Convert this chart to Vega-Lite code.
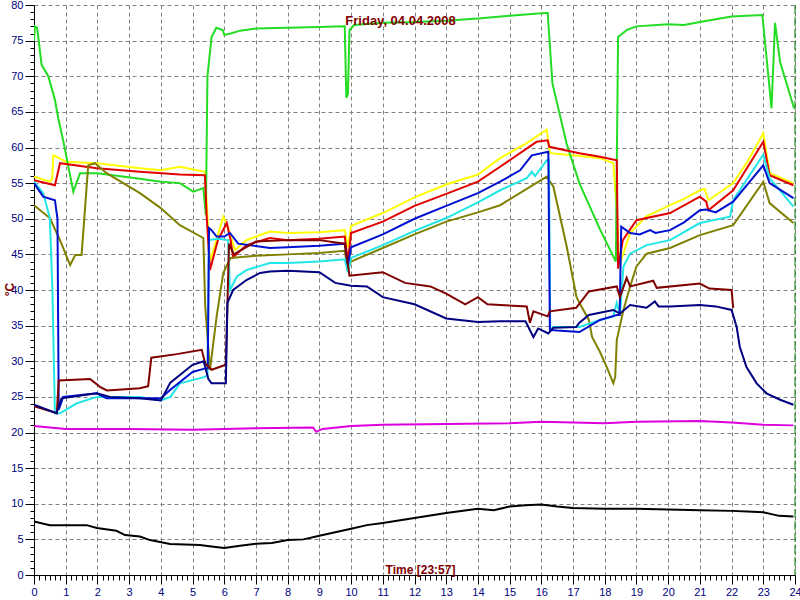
{
"$schema": "https://vega.github.io/schema/vega-lite/v6.json",
"width": 761, "height": 570,
"autosize": {"type": "none"},
"padding": {"left": 34, "top": 5, "right": 5, "bottom": 25},
"background": "white",
"title": {"text": "Friday, 04.04.2008", "color": "#800000", "font": "Liberation Sans", "fontSize": 13, "fontWeight": "bold", "anchor": "middle", "frame": "group", "baseline": "alphabetic", "offset": -20, "dy": 19, "dx": -14},
"config": {"view": {"stroke": null}, "axis": {"labelOverlap": false}},
"layer": [
{
"data": {"values": [
{"s":"y","t":0,"v":55.9},{"s":"y","t":0.5,"v":55.2},{"s":"y","t":0.57,"v":55.5},{"s":"y","t":0.61,"v":58.9},{"s":"y","t":0.75,"v":58.6},{"s":"y","t":1,"v":58},{"s":"y","t":2,"v":57.8},{"s":"y","t":3.34,"v":57.1},{"s":"y","t":4,"v":56.8},{"s":"y","t":4.6,"v":57.3},{"s":"y","t":5.39,"v":56.6},{"s":"y","t":5.45,"v":52},{"s":"y","t":5.55,"v":44},{"s":"y","t":5.75,"v":47},{"s":"y","t":5.97,"v":50.3},{"s":"y","t":6.1,"v":49},{"s":"y","t":6.34,"v":45.6},{"s":"y","t":6.7,"v":47},{"s":"y","t":7.44,"v":48.2},{"s":"y","t":8,"v":48},{"s":"y","t":9,"v":48.1},{"s":"y","t":9.8,"v":48.4},{"s":"y","t":9.9,"v":46},{"s":"y","t":10,"v":49},{"s":"y","t":11,"v":50.8},{"s":"y","t":12,"v":53},{"s":"y","t":13,"v":54.8},{"s":"y","t":14,"v":56.2},{"s":"y","t":14.7,"v":58.5},{"s":"y","t":15.5,"v":60.5},{"s":"y","t":16.17,"v":62.5},{"s":"y","t":16.27,"v":59.2},{"s":"y","t":17,"v":58.9},{"s":"y","t":17.85,"v":58.5},{"s":"y","t":18.27,"v":57.8},{"s":"y","t":18.4,"v":50},{"s":"y","t":18.45,"v":43.3},{"s":"y","t":18.8,"v":48},{"s":"y","t":19.3,"v":50.3},{"s":"y","t":20.06,"v":51.9},{"s":"y","t":20.5,"v":52.8},{"s":"y","t":21,"v":54},{"s":"y","t":21.15,"v":54.2},{"s":"y","t":21.27,"v":52.6},{"s":"y","t":22.05,"v":55},{"s":"y","t":22.5,"v":58},{"s":"y","t":23,"v":62},{"s":"y","t":23.2,"v":56.4},{"s":"y","t":23.95,"v":55},
{"s":"g","t":0,"v":75},{"s":"g","t":0.03,"v":77},{"s":"g","t":0.1,"v":76.8},{"s":"g","t":0.24,"v":71.6},{"s":"g","t":0.45,"v":70},{"s":"g","t":0.66,"v":66.7},{"s":"g","t":0.77,"v":64},{"s":"g","t":0.92,"v":61},{"s":"g","t":1.24,"v":53.8},{"s":"g","t":1.45,"v":56.4},{"s":"g","t":2,"v":56.4},{"s":"g","t":3.34,"v":55.6},{"s":"g","t":4,"v":55.2},{"s":"g","t":4.6,"v":55},{"s":"g","t":5.02,"v":53.8},{"s":"g","t":5.34,"v":54.3},{"s":"g","t":5.42,"v":50.5},{"s":"g","t":5.47,"v":70},{"s":"g","t":5.6,"v":75.5},{"s":"g","t":5.75,"v":76.8},{"s":"g","t":5.95,"v":76.5},{"s":"g","t":6.0,"v":75.8},{"s":"g","t":6.2,"v":76},{"s":"g","t":6.5,"v":76.4},{"s":"g","t":7,"v":76.7},{"s":"g","t":8,"v":76.8},{"s":"g","t":9,"v":76.9},{"s":"g","t":9.8,"v":77},{"s":"g","t":9.85,"v":67},{"s":"g","t":9.9,"v":67.5},{"s":"g","t":9.95,"v":76.5},{"s":"g","t":10.1,"v":77.2},{"s":"g","t":11,"v":77.5},{"s":"g","t":12,"v":77.6},{"s":"g","t":13,"v":77.8},{"s":"g","t":14,"v":78.1},{"s":"g","t":15,"v":78.5},{"s":"g","t":16.2,"v":78.9},{"s":"g","t":16.35,"v":69},{"s":"g","t":16.8,"v":60.5},{"s":"g","t":17.2,"v":55},{"s":"g","t":17.85,"v":48.5},{"s":"g","t":18.35,"v":44},{"s":"g","t":18.42,"v":75.5},{"s":"g","t":18.7,"v":76.5},{"s":"g","t":19,"v":77},{"s":"g","t":20,"v":77.3},{"s":"g","t":20.5,"v":77.2},{"s":"g","t":21,"v":77.6},{"s":"g","t":22,"v":78.4},{"s":"g","t":22.97,"v":78.6},{"s":"g","t":23.26,"v":65.5},{"s":"g","t":23.37,"v":77.5},{"s":"g","t":23.53,"v":72},{"s":"g","t":23.97,"v":65.5},
{"s":"r","t":0,"v":55.4},{"s":"r","t":0.66,"v":54.7},{"s":"r","t":0.82,"v":57.8},{"s":"r","t":1.98,"v":57.1},{"s":"r","t":3.34,"v":56.6},{"s":"r","t":4.6,"v":56.2},{"s":"r","t":5.39,"v":56.1},{"s":"r","t":5.45,"v":50},{"s":"r","t":5.55,"v":42.8},{"s":"r","t":5.8,"v":47},{"s":"r","t":6.08,"v":49.4},{"s":"r","t":6.2,"v":47},{"s":"r","t":6.28,"v":44.6},{"s":"r","t":6.7,"v":46.3},{"s":"r","t":7.44,"v":47.3},{"s":"r","t":8,"v":47},{"s":"r","t":9,"v":47.2},{"s":"r","t":9.8,"v":47.5},{"s":"r","t":9.9,"v":44},{"s":"r","t":10,"v":48},{"s":"r","t":11,"v":49.6},{"s":"r","t":12,"v":51.8},{"s":"r","t":13,"v":53.5},{"s":"r","t":14,"v":55.2},{"s":"r","t":14.7,"v":57.3},{"s":"r","t":15.85,"v":60.8},{"s":"r","t":16.2,"v":61},{"s":"r","t":16.25,"v":60.1},{"s":"r","t":17.2,"v":59.2},{"s":"r","t":17.85,"v":58.7},{"s":"r","t":18.38,"v":58.2},{"s":"r","t":18.42,"v":43},{"s":"r","t":18.57,"v":47},{"s":"r","t":19,"v":49.8},{"s":"r","t":20.06,"v":50.8},{"s":"r","t":21,"v":53.1},{"s":"r","t":21.2,"v":52.4},{"s":"r","t":21.27,"v":51.2},{"s":"r","t":22.05,"v":54},{"s":"r","t":23,"v":60.8},{"s":"r","t":23.2,"v":56.1},{"s":"r","t":23.95,"v":54.7},
{"s":"o","t":0,"v":51.9},{"s":"o","t":0.5,"v":50.1},{"s":"o","t":0.82,"v":47},{"s":"o","t":1.14,"v":43.5},{"s":"o","t":1.3,"v":44.9},{"s":"o","t":1.5,"v":44.9},{"s":"o","t":1.71,"v":57.5},{"s":"o","t":1.92,"v":57.8},{"s":"o","t":2.29,"v":56.4},{"s":"o","t":3.34,"v":53.6},{"s":"o","t":4,"v":51.5},{"s":"o","t":4.6,"v":49.1},{"s":"o","t":5.34,"v":47.3},{"s":"o","t":5.4,"v":37.7},{"s":"o","t":5.55,"v":28.8},{"s":"o","t":5.76,"v":36.3},{"s":"o","t":5.97,"v":42.4},{"s":"o","t":6.2,"v":44.5},{"s":"o","t":7,"v":44.8},{"s":"o","t":8,"v":45},{"s":"o","t":9,"v":45.2},{"s":"o","t":9.8,"v":45.5},{"s":"o","t":9.9,"v":43},{"s":"o","t":10,"v":44},{"s":"o","t":11,"v":45.9},{"s":"o","t":12,"v":47.8},{"s":"o","t":13,"v":49.6},{"s":"o","t":14,"v":50.9},{"s":"o","t":14.7,"v":51.9},{"s":"o","t":16.17,"v":55.9},{"s":"o","t":16.38,"v":54.5},{"s":"o","t":16.8,"v":46.1},{"s":"o","t":17.11,"v":39},{"s":"o","t":17.2,"v":38.2},{"s":"o","t":17.5,"v":35.8},{"s":"o","t":17.6,"v":33.4},{"s":"o","t":17.85,"v":31.3},{"s":"o","t":18.06,"v":29.2},{"s":"o","t":18.27,"v":26.9},{"s":"o","t":18.33,"v":27.8},{"s":"o","t":18.38,"v":33},{"s":"o","t":18.59,"v":37.2},{"s":"o","t":18.8,"v":40.5},{"s":"o","t":19,"v":43.3},{"s":"o","t":19.32,"v":45.1},{"s":"o","t":20.06,"v":45.9},{"s":"o","t":21,"v":47.7},{"s":"o","t":22.05,"v":49.1},{"s":"o","t":23,"v":55.2},{"s":"o","t":23.2,"v":52.2},{"s":"o","t":23.95,"v":49.4},
{"s":"c","t":0,"v":55.2},{"s":"c","t":0.29,"v":53.6},{"s":"c","t":0.5,"v":50.1},{"s":"c","t":0.58,"v":40},{"s":"c","t":0.66,"v":22.7},{"s":"c","t":0.82,"v":22.7},{"s":"c","t":1.35,"v":24.1},{"s":"c","t":1.98,"v":25},{"s":"c","t":3.34,"v":25},{"s":"c","t":4,"v":24.5},{"s":"c","t":4.3,"v":25},{"s":"c","t":4.6,"v":26.9},{"s":"c","t":5.39,"v":27.8},{"s":"c","t":5.47,"v":28},{"s":"c","t":5.52,"v":47},{"s":"c","t":5.8,"v":47.2},{"s":"c","t":6.12,"v":47},{"s":"c","t":6.18,"v":40},{"s":"c","t":6.4,"v":41.9},{"s":"c","t":6.7,"v":42.8},{"s":"c","t":7.44,"v":43.8},{"s":"c","t":8,"v":43.8},{"s":"c","t":9,"v":44},{"s":"c","t":9.8,"v":44.3},{"s":"c","t":9.9,"v":42.5},{"s":"c","t":10,"v":44.5},{"s":"c","t":11,"v":46.3},{"s":"c","t":12,"v":48.3},{"s":"c","t":13,"v":50.1},{"s":"c","t":14,"v":52.3},{"s":"c","t":14.7,"v":54},{"s":"c","t":15.54,"v":55.7},{"s":"c","t":15.7,"v":56.6},{"s":"c","t":15.8,"v":56},{"s":"c","t":16.17,"v":58.2},{"s":"c","t":16.24,"v":58.2},{"s":"c","t":16.28,"v":34.4},{"s":"c","t":16.38,"v":34.8},{"s":"c","t":17.2,"v":34.8},{"s":"c","t":17.85,"v":35.8},{"s":"c","t":18.27,"v":36.3},{"s":"c","t":18.38,"v":38.2},{"s":"c","t":18.48,"v":36.5},{"s":"c","t":18.59,"v":43.3},{"s":"c","t":18.8,"v":45.1},{"s":"c","t":19.32,"v":46.3},{"s":"c","t":20.06,"v":47},{"s":"c","t":21,"v":49.4},{"s":"c","t":21.95,"v":50.3},{"s":"c","t":22.05,"v":52.6},{"s":"c","t":23,"v":59},{"s":"c","t":23.2,"v":55.7},{"s":"c","t":23.95,"v":51.7},
{"s":"b","t":0,"v":55},{"s":"b","t":0.29,"v":53.1},{"s":"b","t":0.66,"v":52.6},{"s":"b","t":0.74,"v":50},{"s":"b","t":0.78,"v":23.2},{"s":"b","t":0.92,"v":25},{"s":"b","t":1.98,"v":25.5},{"s":"b","t":2.29,"v":24.8},{"s":"b","t":3.34,"v":24.8},{"s":"b","t":4,"v":24.8},{"s":"b","t":4.3,"v":26},{"s":"b","t":5,"v":28.5},{"s":"b","t":5.4,"v":29},{"s":"b","t":5.48,"v":29},{"s":"b","t":5.52,"v":48.7},{"s":"b","t":5.6,"v":48.4},{"s":"b","t":5.76,"v":47.5},{"s":"b","t":6.0,"v":47.5},{"s":"b","t":6.18,"v":48},{"s":"b","t":6.44,"v":46.5},{"s":"b","t":7.44,"v":45.9},{"s":"b","t":8,"v":46},{"s":"b","t":9,"v":46.2},{"s":"b","t":9.8,"v":46.5},{"s":"b","t":9.9,"v":43.5},{"s":"b","t":10,"v":46},{"s":"b","t":11,"v":47.8},{"s":"b","t":12,"v":50},{"s":"b","t":13,"v":51.8},{"s":"b","t":14,"v":53.6},{"s":"b","t":14.7,"v":55.2},{"s":"b","t":15.33,"v":56.8},{"s":"b","t":15.7,"v":58.9},{"s":"b","t":16.22,"v":59.4},{"s":"b","t":16.27,"v":34.4},{"s":"b","t":16.5,"v":34.3},{"s":"b","t":17.2,"v":34.1},{"s":"b","t":17.85,"v":35.8},{"s":"b","t":18.38,"v":36.5},{"s":"b","t":18.47,"v":36.5},{"s":"b","t":18.52,"v":48.9},{"s":"b","t":18.8,"v":48},{"s":"b","t":19.1,"v":47.8},{"s":"b","t":19.43,"v":48.4},{"s":"b","t":19.6,"v":48},{"s":"b","t":20.06,"v":48.4},{"s":"b","t":20.5,"v":49.5},{"s":"b","t":21,"v":51.2},{"s":"b","t":21.2,"v":51.3},{"s":"b","t":21.5,"v":50.9},{"s":"b","t":22.05,"v":52.4},{"s":"b","t":23,"v":57.5},{"s":"b","t":23.2,"v":55},{"s":"b","t":23.95,"v":52.9},
{"s":"m","t":0,"v":23.7},{"s":"m","t":0.72,"v":22.7},{"s":"m","t":0.78,"v":27.3},{"s":"m","t":1.77,"v":27.5},{"s":"m","t":2.08,"v":26.4},{"s":"m","t":2.3,"v":25.9},{"s":"m","t":3.34,"v":26.2},{"s":"m","t":3.6,"v":26.5},{"s":"m","t":3.7,"v":30.5},{"s":"m","t":4.5,"v":31},{"s":"m","t":5.29,"v":31.6},{"s":"m","t":5.4,"v":29.7},{"s":"m","t":5.6,"v":28.8},{"s":"m","t":6.05,"v":29.5},{"s":"m","t":6.15,"v":46.5},{"s":"m","t":6.3,"v":45},{"s":"m","t":7,"v":46.8},{"s":"m","t":8,"v":47},{"s":"m","t":9,"v":47},{"s":"m","t":9.8,"v":46.5},{"s":"m","t":9.95,"v":42},{"s":"m","t":11,"v":42.5},{"s":"m","t":11.7,"v":41},{"s":"m","t":12.5,"v":40.5},{"s":"m","t":13,"v":39.5},{"s":"m","t":13.6,"v":38},{"s":"m","t":14,"v":39},{"s":"m","t":14.3,"v":38},{"s":"m","t":14.7,"v":37.9},{"s":"m","t":15.54,"v":37.7},{"s":"m","t":15.64,"v":35.4},{"s":"m","t":15.75,"v":37},{"s":"m","t":16.2,"v":36.3},{"s":"m","t":16.27,"v":37},{"s":"m","t":17.1,"v":37.5},{"s":"m","t":17.5,"v":39.8},{"s":"m","t":18.38,"v":40.5},{"s":"m","t":18.48,"v":39},{"s":"m","t":18.69,"v":41.7},{"s":"m","t":18.8,"v":40.5},{"s":"m","t":19.53,"v":41.3},{"s":"m","t":19.64,"v":40.3},{"s":"m","t":21,"v":40.9},{"s":"m","t":21.3,"v":40.2},{"s":"m","t":22,"v":40},{"s":"m","t":22.05,"v":37.5},
{"s":"n","t":0,"v":23.9},{"s":"n","t":0.71,"v":22.7},{"s":"n","t":0.87,"v":24.8},{"s":"n","t":1.98,"v":25.5},{"s":"n","t":2.4,"v":25},{"s":"n","t":3.34,"v":24.8},{"s":"n","t":4,"v":24.5},{"s":"n","t":4.3,"v":27},{"s":"n","t":5,"v":29.5},{"s":"n","t":5.35,"v":30},{"s":"n","t":5.5,"v":27.5},{"s":"n","t":5.6,"v":26.9},{"s":"n","t":6.05,"v":26.9},{"s":"n","t":6.1,"v":38.2},{"s":"n","t":6.28,"v":40},{"s":"n","t":6.7,"v":41.4},{"s":"n","t":7.13,"v":42.4},{"s":"n","t":7.44,"v":42.6},{"s":"n","t":8,"v":42.7},{"s":"n","t":9,"v":42.5},{"s":"n","t":9.5,"v":41},{"s":"n","t":10,"v":40.6},{"s":"n","t":10.5,"v":40.5},{"s":"n","t":11,"v":39},{"s":"n","t":12,"v":38},{"s":"n","t":13,"v":36},{"s":"n","t":14,"v":35.5},{"s":"n","t":14.7,"v":35.6},{"s":"n","t":15.5,"v":35.6},{"s":"n","t":15.75,"v":33.4},{"s":"n","t":15.9,"v":34.6},{"s":"n","t":16.22,"v":33.9},{"s":"n","t":16.38,"v":34.7},{"s":"n","t":17.1,"v":34.8},{"s":"n","t":17.2,"v":35.4},{"s":"n","t":17.5,"v":36.5},{"s":"n","t":18.27,"v":37.2},{"s":"n","t":18.48,"v":36.7},{"s":"n","t":18.8,"v":37.9},{"s":"n","t":19.32,"v":37.5},{"s":"n","t":19.58,"v":38.4},{"s":"n","t":19.7,"v":37.7},{"s":"n","t":20.06,"v":37.7},{"s":"n","t":21,"v":37.9},{"s":"n","t":21.5,"v":37.7},{"s":"n","t":22,"v":37.2},{"s":"n","t":22.16,"v":34.8},{"s":"n","t":22.26,"v":32},{"s":"n","t":22.47,"v":29.2},{"s":"n","t":22.79,"v":26.9},{"s":"n","t":23.1,"v":25.5},{"s":"n","t":23.53,"v":24.6},{"s":"n","t":23.95,"v":23.9},
{"s":"p","t":0,"v":20.9},{"s":"p","t":1,"v":20.5},{"s":"p","t":3,"v":20.5},{"s":"p","t":5,"v":20.4},{"s":"p","t":7,"v":20.6},{"s":"p","t":8.8,"v":20.7},{"s":"p","t":8.9,"v":20.1},{"s":"p","t":9.1,"v":20.5},{"s":"p","t":10,"v":20.9},{"s":"p","t":11,"v":21.1},{"s":"p","t":13,"v":21.2},{"s":"p","t":15,"v":21.3},{"s":"p","t":16,"v":21.5},{"s":"p","t":18,"v":21.3},{"s":"p","t":19,"v":21.5},{"s":"p","t":21,"v":21.6},{"s":"p","t":22,"v":21.4},{"s":"p","t":23,"v":21.1},{"s":"p","t":23.95,"v":21},
{"s":"k","t":0,"v":7.5},{"s":"k","t":0.5,"v":7.0},{"s":"k","t":1.66,"v":7.0},{"s":"k","t":1.98,"v":6.6},{"s":"k","t":2.6,"v":6.2},{"s":"k","t":2.87,"v":5.6},{"s":"k","t":3.34,"v":5.4},{"s":"k","t":3.66,"v":4.9},{"s":"k","t":4.29,"v":4.35},{"s":"k","t":5.23,"v":4.2},{"s":"k","t":5.6,"v":4.0},{"s":"k","t":6,"v":3.8},{"s":"k","t":6.5,"v":4.1},{"s":"k","t":7,"v":4.4},{"s":"k","t":7.5,"v":4.5},{"s":"k","t":8,"v":4.9},{"s":"k","t":8.5,"v":5},{"s":"k","t":9,"v":5.5},{"s":"k","t":9.5,"v":6},{"s":"k","t":10,"v":6.5},{"s":"k","t":10.5,"v":7},{"s":"k","t":11,"v":7.3},{"s":"k","t":12,"v":8},{"s":"k","t":13,"v":8.7},{"s":"k","t":14,"v":9.3},{"s":"k","t":14.5,"v":9.1},{"s":"k","t":15,"v":9.6},{"s":"k","t":15.5,"v":9.8},{"s":"k","t":16,"v":9.9},{"s":"k","t":16.5,"v":9.6},{"s":"k","t":17,"v":9.4},{"s":"k","t":18,"v":9.3},{"s":"k","t":19,"v":9.3},{"s":"k","t":20,"v":9.2},{"s":"k","t":21,"v":9.1},{"s":"k","t":22,"v":9.0},{"s":"k","t":22.5,"v":8.9},{"s":"k","t":23,"v":8.8},{"s":"k","t":23.5,"v":8.3},{"s":"k","t":23.95,"v":8.2}
]},
"mark": {"type": "line", "strokeWidth": 2, "clip": true},
"encoding": {
"x": {"field": "t", "type": "quantitative", "scale": {"domain": [0, 24], "nice": false, "zero": false},
"axis": {"values": [0,0.1667,0.3333,0.5,0.6667,0.8333,1,1.1667,1.3333,1.5,1.6667,1.8333,2,2.1667,2.3333,2.5,2.6667,2.8333,3,3.1667,3.3333,3.5,3.6667,3.8333,4,4.1667,4.3333,4.5,4.6667,4.8333,5,5.1667,5.3333,5.5,5.6667,5.8333,6,6.1667,6.3333,6.5,6.6667,6.8333,7,7.1667,7.3333,7.5,7.6667,7.8333,8,8.1667,8.3333,8.5,8.6667,8.8333,9,9.1667,9.3333,9.5,9.6667,9.8333,10,10.1667,10.3333,10.5,10.6667,10.8333,11,11.1667,11.3333,11.5,11.6667,11.8333,12,12.1667,12.3333,12.5,12.6667,12.8333,13,13.1667,13.3333,13.5,13.6667,13.8333,14,14.1667,14.3333,14.5,14.6667,14.8333,15,15.1667,15.3333,15.5,15.6667,15.8333,16,16.1667,16.3333,16.5,16.6667,16.8333,17,17.1667,17.3333,17.5,17.6667,17.8333,18,18.1667,18.3333,18.5,18.6667,18.8333,19,19.1667,19.3333,19.5,19.6667,19.8333,20,20.1667,20.3333,20.5,20.6667,20.8333,21,21.1667,21.3333,21.5,21.6667,21.8333,22,22.1667,22.3333,22.5,22.6667,22.8333,23,23.1667,23.3333,23.5,23.6667,23.8333,24],
"tickCount": 200,
"title": "Time [23:57]", "titleColor": "#800000", "titleFont": "Liberation Sans", "titleFontSize": 12, "titleFontWeight": "bold", "titleX": 386, "titleY": -2, "titleBaseline": "alphabetic", "titleAlign": "center",
"labelExpr": "abs(datum.value - round(datum.value)) < 0.01 ? format(round(datum.value), 'd') : ''",
"labelColor": "#000080", "labelFont": "Liberation Sans", "labelFontSize": 11, "labelOverlap": false, "labelFlush": false, "labelBound": false, "labelPadding": 2,
"tickSize": {"condition": {"test": "abs(datum.value - round(datum.value)) < 0.01", "value": 9}, "value": 5},
"tickColor": "black", "domainColor": "black",
"grid": true, "gridColor": "#808080", "gridDash": [4, 3],
"gridOpacity": {"condition": {"test": "abs(datum.value - round(datum.value)) < 0.01 && datum.value > 0.5", "value": 1}, "value": 0}}},
"y": {"field": "v", "type": "quantitative", "scale": {"domain": [0, 80], "nice": false},
"axis": {"values": [0,1,2,3,4,5,6,7,8,9,10,11,12,13,14,15,16,17,18,19,20,21,22,23,24,25,26,27,28,29,30,31,32,33,34,35,36,37,38,39,40,41,42,43,44,45,46,47,48,49,50,51,52,53,54,55,56,57,58,59,60,61,62,63,64,65,66,67,68,69,70,71,72,73,74,75,76,77,78,79,80],
"tickCount": 100,
"title": "°C", "titleColor": "#800000", "titleFont": "Liberation Sans", "titleFontSize": 12, "titleFontWeight": "bold", "titleX": -25, "titleY": 284, "titleBaseline": "middle", "titleAlign": "center",
"labelExpr": "datum.value % 5 === 0 ? datum.label : ''",
"labelColor": "#000080", "labelFont": "Liberation Sans", "labelFontSize": 11, "labelOverlap": false, "labelFlush": false, "labelBound": false, "labelPadding": 2,
"tickSize": {"condition": {"test": "datum.value % 5 === 0", "value": 9}, "value": 4},
"tickColor": "black", "domainColor": "black",
"grid": true, "gridColor": "#808080", "gridDash": [4, 3],
"gridOpacity": {"condition": {"test": "datum.value % 5 === 0 && datum.value > 0", "value": 1}, "value": 0}}},
"color": {"field": "s", "type": "nominal", "legend": null,
"scale": {"domain": ["y","g","r","o","c","b","m","n","p","k"], "range": ["#ffff00","#22dd22","#e00000","#808000","#22e6e6","#0010d0","#800000","#000080","#dd00dd","#000000"]}}
}
},
{
"data": {"values": [{"t": 24}]},
"mark": {"type": "rule", "color": "#008000", "strokeWidth": 1, "strokeDash": [9, 3]},
"encoding": {"x": {"field": "t", "type": "quantitative"}}
}
]
}
